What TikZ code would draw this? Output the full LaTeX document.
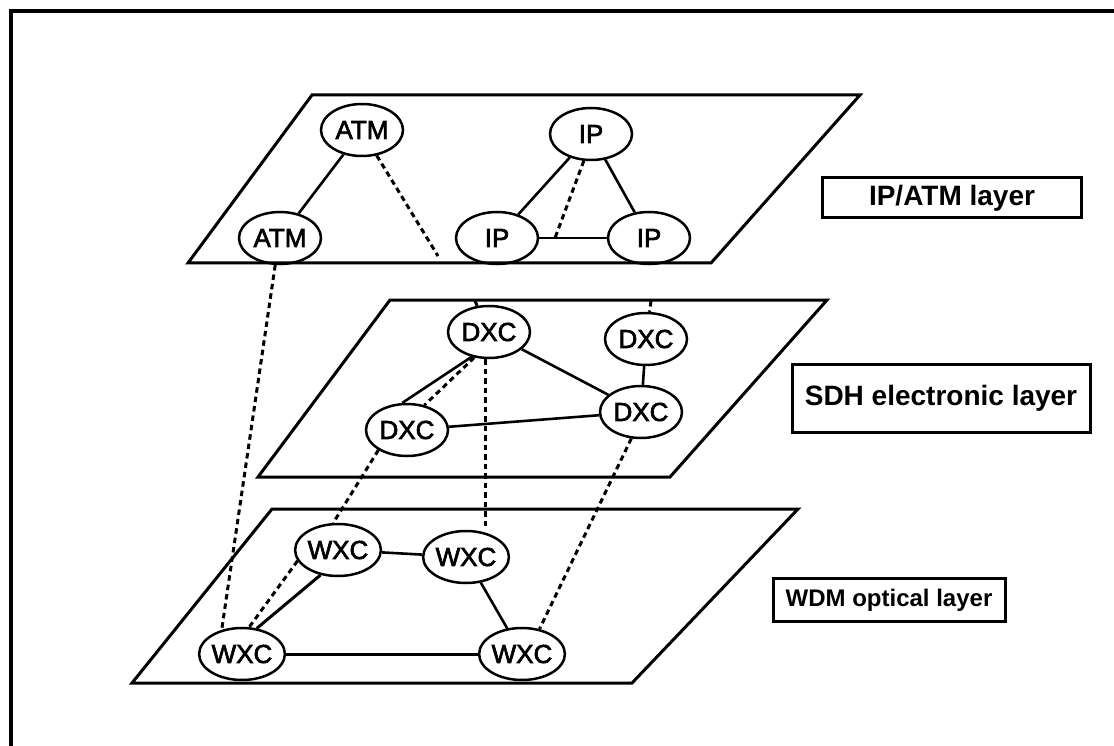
\documentclass[tikz,border=0pt]{standalone}
\usepackage{fontspec}
\setmainfont{Liberation Sans}
\newfontfamily\ndfont{Liberation Sans}[FakeBold=2.5]
\usetikzlibrary{shapes.geometric}
\begin{document}
\begin{tikzpicture}[x=1pt,y=-1pt,
  nd/.style={ellipse, draw, line width=2.5pt, minimum width=82pt, minimum height=52pt, inner sep=0pt, font=\ndfont\fontsize{26}{26}\selectfont},
  plane/.style={draw, line width=3pt, line join=miter},
  lbl/.style={draw, line width=3pt, font=\bfseries\fontsize{28}{28}\selectfont, inner sep=0pt},
  link/.style={line width=2.6pt},
  dsh/.style={line width=3pt, dash pattern=on 5.5pt off 4pt}
]
\useasboundingbox (0,0) rectangle (1114,746);
\draw[line width=3.5pt] (11,746) -- (11,11) -- (1114,11);

% planes
\draw[plane] (312,95) -- (860,95) -- (711,263) -- (188,263) -- cycle;
\draw[plane] (390,300) -- (827,300) -- (670,477) -- (258,477) -- cycle;
\draw[plane] (272,509) -- (798,509) -- (632,683) -- (132,683) -- cycle;

% label boxes
\node[lbl, minimum width=259pt, minimum height=40pt] (l1) at (952,198) {IP/ATM layer};
\node[lbl, minimum width=298pt, minimum height=68pt] (l2) at (941,398) {SDH electronic layer};
\node[lbl, minimum width=232pt, minimum height=43pt, font=\bfseries\fontsize{24}{24}\selectfont] (l3) at (889,600) {WDM optical layer};

% top layer nodes
\node[nd] (atm1) at (362,130) {ATM};
\node[nd] (atm2) at (280,238) {ATM};
\node[nd] (ip1) at (591,134) {IP};
\node[nd] (ip2) at (497,238) {IP};
\node[nd] (ip3) at (649,238) {IP};

% middle layer nodes
\node[nd] (dxc1) at (489,332) {DXC};
\node[nd] (dxc2) at (646,339) {DXC};
\node[nd] (dxc3) at (407,430) {DXC};
\node[nd] (dxc4) at (641,412) {DXC};

% bottom layer nodes
\node[nd] (wxc1) at (338,550) {WXC};
\node[nd] (wxc2) at (466,557) {WXC};
\node[nd] (wxc3) at (242,654) {WXC};
\node[nd] (wxc4) at (522,654) {WXC};

% free ends
\coordinate (a1) at (438,256);
\coordinate (a2) at (555,238);
\coordinate (b1) at (475,301);
\coordinate (b2) at (651,301);

% solid links
\draw[link] (atm1) -- (atm2);
\draw[link] (ip1) -- (ip2);
\draw[link] (ip1) -- (ip3);
\draw[link] (ip2) -- (ip3);
\draw[link] (dxc1.235) -- (dxc3.100);
\draw[link] (dxc1) -- (dxc4);
\draw[link] (dxc2) -- (dxc4);
\draw[link] (dxc3) -- (dxc4);
\draw[link] (wxc1) -- (wxc2);
\draw[link] (wxc2) -- (wxc4);
\draw[link, line width=3pt] (wxc3) -- (wxc4);
\draw[link, line width=3pt] (wxc1.235) -- (wxc3.60);

% dashed links
\draw[dsh] (atm1.-60) -- (a1);
\draw[dsh] (ip1.255) -- (a2);
\draw[dsh] (b1) -- (dxc1);
\draw[dsh] (b2) -- (dxc2);
\draw[dsh] (atm2.260) -- (wxc3.130);
\draw[dsh] (dxc1.240) -- (dxc3.55);
\draw[dsh] (dxc3.215) -- (wxc1.100);
\draw[dsh] (wxc1.195) -- (wxc3.75);
\draw[dsh] (dxc1.262) -- (wxc2.north -| dxc1.262);
\draw[dsh] (dxc4.250) -- (wxc4.55);
\end{tikzpicture}
\end{document}
